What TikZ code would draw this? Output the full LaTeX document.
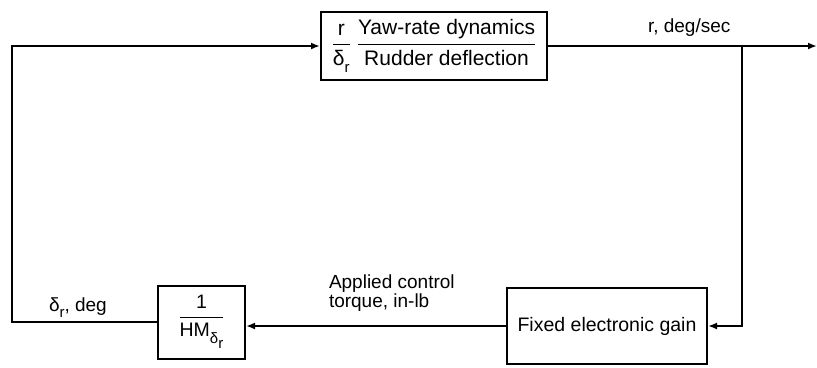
\documentclass[tikz,border=0pt]{standalone}
\usepackage{amsmath}
\usepackage{fontspec}
\setmainfont{Liberation Sans}
\usetikzlibrary{arrows.meta}
\newcommand\myfr[2]{\ensuremath{\genfrac{}{}{1.6bp}{0}{\hbox{#1}}{\hbox{#2}}}}
\newcommand\lowsub[1]{\raisebox{-0.35em}{\fontsize{15bp}{15bp}\selectfont #1}}
\begin{document}
\begin{tikzpicture}[x=1bp,y=-1bp, line width=2bp,
  blk/.style={draw, line width=2bp, inner sep=0pt, font=\fontsize{19.5bp}{23bp}\selectfont},
  lbl/.style={font=\fontsize{19bp}{21bp}\selectfont, inner sep=0pt},
  arr/.style={-{Latex[length=9bp,width=7bp]}}]
\useasboundingbox (0,0) rectangle (817,367);
\node[blk, minimum width=226bp, minimum height=68bp, font=\fontsize{21bp}{24bp}\selectfont] (dyn) at (434,46)
  {\myfr{r}{δ\lowsub{r}}\hspace{6bp}\myfr{Yaw-rate dynamics}{Rudder deflection}};
\node[blk, minimum width=87bp, minimum height=73bp] (hm) at (201.5,322)
  {\myfr{1}{HM\lowsub{δ\lowsub{r}}}};
\node[blk, minimum width=200bp, minimum height=76bp] (gain) at (607,326)
  {Fixed electronic gain};
\coordinate (out) at (817,46);
\coordinate (br) at (742,46);
\coordinate (lc) at (12,322);
\draw[arr] (dyn.east) -- (out);
\draw[arr] (br) |- (gain.east);
\draw[arr] (gain.west) -- (hm.east |- gain.west);
\draw[arr] (hm.west) -- (lc) |- (dyn.west);
\node[lbl, anchor=base west] (rl) at (647,32) {r, deg/sec};
\node[lbl, anchor=base west] (dl) at (48,311) {δ\lowsub{r}, deg};
\node[lbl, anchor=base west] (t1) at (328,288) {Applied control};
\node[lbl, anchor=base west] (t2) at (328,307) {torque, in-lb};
\end{tikzpicture}
\end{document}
